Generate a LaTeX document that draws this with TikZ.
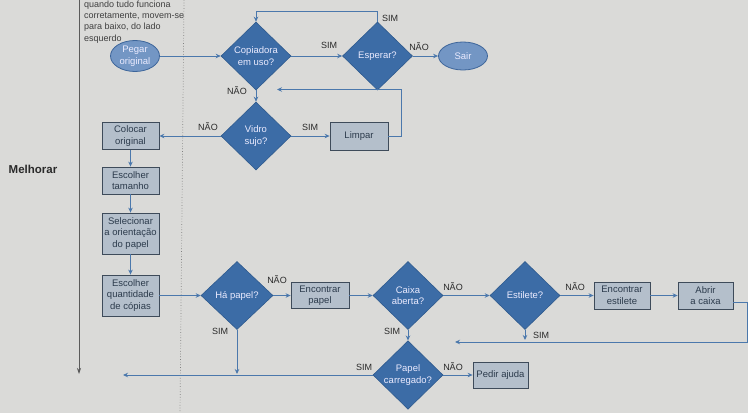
\documentclass[tikz,border=0pt]{standalone}
\usepackage{fontspec}
\setmainfont{Liberation Sans}
\usetikzlibrary{shapes.geometric,arrows.meta}
\definecolor{bgc}{HTML}{DADAD8}
\definecolor{diafill}{HTML}{3C6CA6}
\definecolor{diadraw}{HTML}{2E5A8E}
\definecolor{ellfill}{HTML}{7396C4}
\definecolor{elldraw}{HTML}{3D659A}
\definecolor{boxfill}{HTML}{B4BFCB}
\definecolor{boxdraw}{HTML}{3E4B5A}
\definecolor{boxtext}{HTML}{2C3B4C}
\definecolor{linec}{HTML}{4B78AC}
\definecolor{labc}{HTML}{2A2A2A}
\definecolor{grayline}{HTML}{5A5A5A}
\tikzset{
  dia/.style={diamond, fill=diafill, draw=diadraw, line width=0.6pt, text=white!92!blue,
    font=\fontsize{9.5}{11.5}\selectfont, align=center, inner sep=0pt,
    minimum width=70pt, minimum height=68pt},
  ell/.style={ellipse, fill=ellfill, draw=elldraw, line width=0.8pt, text=white!92!blue,
    font=\fontsize{9.5}{11.5}\selectfont, align=center, inner sep=0pt},
  stepbox/.style={rectangle, fill=boxfill, draw=boxdraw, line width=0.8pt, text=boxtext,
    font=\fontsize{9.5}{11.5}\selectfont, align=center, inner sep=0pt},
  conn/.style={draw=linec, line width=0.9pt},
  arr/.style={conn, -{Stealth[length=5pt,width=4.5pt]}},
  lab/.style={text=labc, font=\fontsize{9}{10}\selectfont, inner sep=0pt},
  note/.style={text=labc!90!white, font=\fontsize{9}{11.3}\selectfont, align=left, inner sep=0pt, anchor=north west}
}
\begin{document}
\begin{tikzpicture}[x=1pt,y=-1pt]
\fill[bgc] (0,0) rectangle (748,413);
\useasboundingbox (0,0) rectangle (748,413);

% side guides
\coordinate (g1) at (79,0);
\coordinate (g2) at (79,374);
\draw[grayline, line width=0.8pt, -{Stealth[length=6pt,width=4pt]}] (g1) -- (g2);
\coordinate (d1) at (184,0);
\coordinate (d2) at (180,413);
\draw[gray, line width=0.7pt, dotted] (d1) -- (d2);

\node[note] (notetext) at (84,0.5) {quando tudo funciona\\corretamente, movem-se\\para baixo, do lado\\esquerdo};
\node[text=labc, font=\bfseries\fontsize{11.5}{13}\selectfont, inner sep=0pt] (melhorar) at (33,169) {Melhorar};

% nodes
\node[ell, minimum width=49pt, minimum height=31pt] (pegar) at (135,56) {Pegar\\original};
\node[dia] (copia) at (256,56) {Copiadora\\em uso?};
\node[dia] (esper) at (377.5,56) {Esperar?};
\node[ell, minimum width=49pt, minimum height=28pt] (sair) at (463,56) {Sair};
\node[dia] (vidro) at (256,136) {Vidro\\sujo?};
\node[stepbox, minimum width=58pt, minimum height=28pt] (limpar) at (359,136) {Limpar};
\node[stepbox, minimum width=57pt, minimum height=27pt] (colocar) at (130.5,136) {Colocar\\original};
\node[stepbox, minimum width=57pt, minimum height=27pt] (tam) at (130.5,180.5) {Escolher\\tamanho};
\node[stepbox, minimum width=57pt, minimum height=41pt] (sel) at (130.5,233.5) {Selecionar\\a orientação\\do papel};
\node[stepbox, minimum width=57pt, minimum height=41pt] (qtd) at (130.5,295.5) {Escolher\\quantidade\\de cópias};
\node[dia, minimum width=72pt] (hapapel) at (237,295.5) {Há papel?};
\node[stepbox, minimum width=58pt, minimum height=26pt] (encpapel) at (320,295.5) {Encontrar\\papel};
\node[dia] (caixa) at (408,295.5) {Caixa\\aberta?};
\node[dia] (estil) at (525,295.5) {Estilete?};
\node[stepbox, minimum width=56pt, minimum height=27pt] (encest) at (622,295.5) {Encontrar\\estilete};
\node[stepbox, minimum width=55pt, minimum height=27pt] (abrir) at (705.5,295.5) {Abrir\\a caixa};
\node[dia] (carreg) at (408,375) {Papel\\carregado?};
\node[stepbox, minimum width=55pt, minimum height=26pt] (pedir) at (500.5,375) {Pedir ajuda};

% free ends
\coordinate (ret) at (277,89.5);
\coordinate (ret2) at (455,342);
\coordinate (estend) at (525,340);
\coordinate (leftend) at (123,375);
\coordinate (hpend) at (237,374);

% connectors
\draw[arr] (pegar) -- (copia.west);
\draw[arr] (copia.east) -- (esper.west);
\draw[arr] (esper.east) -- (sair.west);
\draw[arr] (esper.north) -- ++(0,-10) -| (copia.north);
\draw[arr] (copia.south) -- (vidro.north);
\draw[arr] (vidro.east) -- (limpar.west);
\draw[arr] (limpar.east) -- ++(13,0) |- (ret);
\draw[arr] (vidro.west) -- (colocar.east);
\draw[arr] (colocar.south) -- (tam.north);
\draw[arr] (tam.south) -- (sel.north);
\draw[arr] (sel.south) -- (qtd.north);
\draw[arr] (qtd.east) -- (hapapel.west);
\draw[arr] (hapapel.east) -- (encpapel.west);
\draw[arr] (encpapel.east) -- (caixa.west);
\draw[arr] (caixa.east) -- (estil.west);
\draw[arr] (estil.east) -- (encest.west);
\draw[arr] (encest.east) -- (abrir.west);
\draw[arr] ([yshift=-7pt]abrir.east) -- ++(14,0) |- (ret2);
\draw[arr] (estil.south) -- (estend);
\draw[arr] (caixa.south) -- (carreg.north);
\draw[arr] (carreg.west) -- (leftend);
\draw[arr] (hapapel.south) -- (hpend);
\draw[arr] (carreg.east) -- (pedir.west);

% labels
\node[lab] (l1) at (390,18) {SIM};
\node[lab] (l2) at (329,45) {SIM};
\node[lab] (l3) at (419,47) {NÃO};
\node[lab] (l4) at (237,91) {NÃO};
\node[lab] (l5) at (310,127) {SIM};
\node[lab] (l6) at (208,127) {NÃO};
\node[lab] (l7) at (277,280) {NÃO};
\node[lab] (l8) at (220,331) {SIM};
\node[lab] (l9) at (453,287) {NÃO};
\node[lab] (l10) at (575,287) {NÃO};
\node[lab] (l11) at (541,335) {SIM};
\node[lab] (l12) at (392,331) {SIM};
\node[lab] (l13) at (364,367) {SIM};
\node[lab] (l14) at (453,367) {NÃO};
\end{tikzpicture}
\end{document}
